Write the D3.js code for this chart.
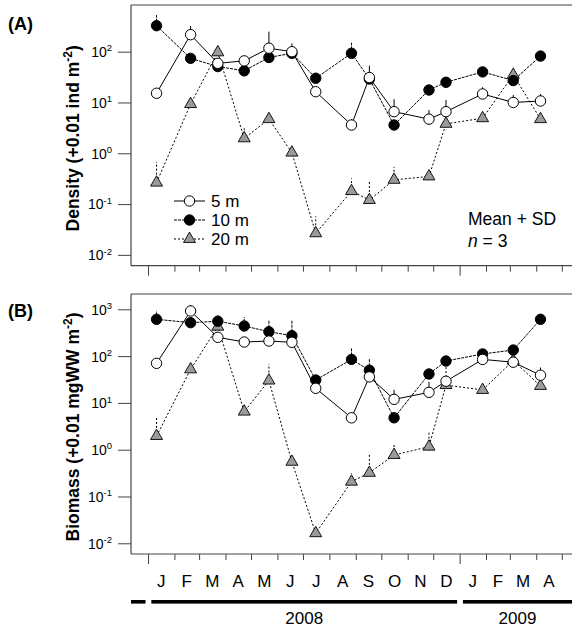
<!DOCTYPE html>
<html>
<head>
<meta charset="utf-8">
<script src="https://cdn.jsdelivr.net/npm/d3@7"></script>
<style>
  body { margin: 0; background: #fff; }
  text { font-family: "Liberation Sans", Arial, Helvetica, sans-serif; fill: #000; }
</style>
</head>
<body>
<svg id="chart" width="572" height="632"></svg>
<script>
// Sampling dates (one survey per month, irregular days)
const sampleDates = ["2008-01-11","2008-02-20","2008-03-23","2008-04-23","2008-05-22",
  "2008-06-18","2008-07-16","2008-08-27","2008-09-17","2008-10-16","2008-11-26",
  "2008-12-16","2009-01-28","2009-03-05","2009-04-06"];

const monthLabels = ["J","F","M","A","M","J","J","A","S","O","N","D","J","F","M","A"];
const yearLabels = ["2008","2009"];
const depthLabels = ["5 m","10 m","20 m"];

// Density (+0.01 ind m-2): means and SDs per depth
const density5   = [15.2, 216, 59, 66, 117, 100, 16.3, 3.6, 31, 6.6, 4.7, 6.6, 14.7, 10, 10.7];
const density5SD = [1.8, 104, 6, 16, 131, 46, 1.7, 1.1, 22, 5, 2.4, 4.6, 5.3, 4, 4];
const density10   = [325, 74, 51, 42, 77, 93, 30, 93, 29, 3.6, 17.6, 25, 40, 27, 82];
const density10SD = [200, 10, 5, 5, 10, 10, 3, 57, 3, 0.4, 2, 3, 5, 3, 8];
const density20   = [0.264, 9.3, 97, 1.97, 4.7, 1.03, 0.0266, 0.18, 0.12, 0.30, 0.35, 3.8, 4.9, 35, 4.7];
const density20SD = [0.41, 1, 10, 1.3, 0.5, 0.2, 0.031, 0.14, 0.18, 0.24, 0.03, 2.2, 0.5, 16, 0.5];

// Biomass (+0.01 mgWW m-2): means and SDs per depth
const biomass5   = [70, 920, 252, 200, 210, 197, 20.5, 4.8, 36, 11.9, 16.8, 29, 85, 74, 39];
const biomass5SD = [18, 320, 10, 10, 10, 10, 2, 1.4, 5, 7.1, 11.2, 5, 10, 8, 18];
const biomass10   = [611, 518, 555, 440, 332, 273, 30.8, 85, 50, 4.8, 41.5, 78.5, 111, 135, 611];
const biomass10SD = [319, 30, 200, 235, 238, 297, 3, 62, 40, 0.5, 3, 5, 10, 10, 50];
const biomass20   = [1.96, 52, 425, 6.5, 30, 0.55, 0.0164, 0.207, 0.32, 0.77, 1.16, 24, 18.9, 80, 23];
const biomass20SD = [3.1, 5, 50, 1, 38, 0.1, 0.003, 0.11, 0.54, 0.55, 1.34, 52, 2, 10, 5];

const densityTicks = [1e-2, 1e-1, 1e0, 1e1, 1e2];
const biomassTicks = [1e-2, 1e-1, 1e0, 1e1, 1e2, 1e3];

const parse = d3.utcParse("%Y-%m-%d");
const dates = sampleDates.map(parse);

const svg = d3.select("#chart");
const W = 572;
const left = 131;
const frameColor = "#444";

const x = d3.scaleUtc()
  .domain([parse("2007-12-12"), parse("2009-05-13")])
  .range([left, W]);

// series styling by depth
const styles = [
  { dash: null,  marker: "open" },
  { dash: "3,1", marker: "filled" },
  { dash: "2,2", marker: "triangle" }
];

const panels = [
  { label: "(A)", top: 5, bottom: 265.7, dom: [-2.213, 2.919], ticks: densityTicks,
    title: ["Density (+0.01 ind m", "-2", ")"], labelY: 30,
    series: [[density5, density5SD], [density10, density10SD], [density20, density20SD]],
    legend: true },
  { label: "(B)", top: 294, bottom: 554, dom: [-2.229, 3.327], ticks: biomassTicks,
    title: ["Biomass (+0.01 mgWW m", "-2", ")"], labelY: 317,
    series: [[biomass5, biomass5SD], [biomass10, biomass10SD], [biomass20, biomass20SD]],
    legend: false }
];

const triangle = d3.symbol().type(d3.symbolTriangle).size(62);

function drawMarker(g, kind, cx, cy) {
  if (kind === "triangle") {
    g.append("path").attr("d", triangle)
      .attr("transform", `translate(${cx},${cy})`)
      .attr("fill", "#9b9b9b").attr("stroke", "#000").attr("stroke-width", 0.9);
  } else {
    g.append("circle").attr("cx", cx).attr("cy", cy).attr("r", 5.2)
      .attr("fill", kind === "open" ? "#fff" : "#000")
      .attr("stroke", "#000").attr("stroke-width", 1);
  }
}

const monthTicks = d3.utcMonth.range(parse("2008-01-01"), parse("2009-05-02"));

panels.forEach(p => {
  const y = d3.scaleLog()
    .domain([Math.pow(10, p.dom[0]), Math.pow(10, p.dom[1])])
    .range([p.bottom, p.top]);

  // frame: left axis, top border, bottom axis
  svg.append("line").attr("x1", left).attr("x2", W).attr("y1", p.top).attr("y2", p.top)
    .attr("stroke", frameColor).attr("stroke-width", 1.2);

  // y axis
  const yAxis = svg.append("g").attr("transform", `translate(${left},0)`)
    .call(d3.axisLeft(y).tickValues(p.ticks).tickSize(13).tickPadding(6).tickFormat(""));
  yAxis.select(".domain").attr("stroke", frameColor).attr("stroke-width", 1.2)
    .attr("d", `M0,${p.top}V${p.bottom}`);
  yAxis.selectAll(".tick line").attr("stroke", frameColor);
  yAxis.selectAll(".tick text").each(function(d) {
    const t = d3.select(this).attr("font-size", 14).attr("dy", "0.35em").attr("x", -19);
    t.append("tspan").text("10");
    t.append("tspan").attr("font-size", 9.5).attr("dy", "-0.6em").text(Math.round(Math.log10(d)));
  });

  // x axis (month boundaries; Januaries longer)
  const xAxis = svg.append("g").attr("transform", `translate(0,${p.bottom})`)
    .call(d3.axisBottom(x).tickValues(monthTicks).tickSize(6).tickFormat(""));
  xAxis.select(".domain").attr("stroke", frameColor).attr("stroke-width", 1.2)
    .attr("d", `M${left},0H${W}`);
  xAxis.selectAll(".tick line").attr("stroke", frameColor)
    .attr("y2", d => d.getUTCMonth() === 0 ? 10 : 6);

  // axis title
  const tt = svg.append("text")
    .attr("transform", `translate(79,${(p.top + p.bottom) / 2 + 3}) rotate(-90)`)
    .attr("text-anchor", "middle").attr("font-weight", "bold").attr("font-size", 17.5);
  tt.append("tspan").text(p.title[0]);
  tt.append("tspan").attr("font-size", 12).attr("dy", "-0.55em").text(p.title[1]);
  tt.append("tspan").attr("dy", "0.4em").text(p.title[2]);

  // panel label
  svg.append("text").attr("x", 8).attr("y", p.labelY)
    .attr("font-weight", "bold").attr("font-size", 18).text(p.label);

  const plot = svg.append("g");
  const line = d3.line().x((d, i) => x(dates[i])).y(d => y(d));

  // draw deepest series first so shallower ones sit on top
  [2, 1, 0].forEach(k => {
    const [means, sds] = p.series[k];
    const st = styles[k];
    plot.append("path").datum(means).attr("d", line)
      .attr("fill", "none").attr("stroke", "#000").attr("stroke-width", 1)
      .attr("stroke-dasharray", st.dash);
    means.forEach((m, i) => {
      plot.append("line")
        .attr("x1", x(dates[i])).attr("x2", x(dates[i]))
        .attr("y1", y(m)).attr("y2", y(m + sds[i]))
        .attr("stroke", "#000").attr("stroke-width", 1)
        .attr("stroke-dasharray", st.dash);
    });
  });
  [2, 1, 0].forEach(k => {
    const [means] = p.series[k];
    means.forEach((m, i) => drawMarker(plot, styles[k].marker, x(dates[i]), y(m)));
  });

  if (p.legend) {
    const lg = svg.append("g");
    depthLabels.forEach((lab, k) => {
      const ly = 201 + k * 19;
      lg.append("line").attr("x1", 174).attr("x2", 205).attr("y1", ly).attr("y2", ly)
        .attr("stroke", "#000").attr("stroke-width", 1).attr("stroke-dasharray", styles[k].dash);
      drawMarker(lg, styles[k].marker, 189.5, ly);
      lg.append("text").attr("x", 211).attr("y", ly + 6).attr("font-size", 17).text(lab);
    });
    svg.append("text").attr("x", 468).attr("y", 225).attr("font-size", 17.5).text("Mean + SD");
    const nt = svg.append("text").attr("x", 468).attr("y", 247).attr("font-size", 17.5);
    nt.append("tspan").attr("font-style", "italic").text("n");
    nt.append("tspan").text(" = 3");
  }
});

// month initials centred in each month
const monthStarts = d3.utcMonth.range(parse("2008-01-01"), parse("2009-05-01"));
svg.append("g").selectAll("text").data(monthStarts).join("text")
  .attr("x", d => (x(d) + x(d3.utcMonth.offset(d, 1))) / 2)
  .attr("y", 587).attr("text-anchor", "middle").attr("font-size", 17)
  .text((d, i) => monthLabels[i]);

// year bars with small gaps at the year boundaries
const y08 = parse("2008-01-01"), y09 = parse("2009-01-01");
const bars = [
  [left, x(y08) - 2.5, null],
  [x(y08) + 3.3, x(y09) - 2.5, yearLabels[0]],
  [x(y09) + 3.3, W, yearLabels[1]]
];
bars.forEach(([a, b, lab]) => {
  svg.append("rect").attr("x", a).attr("y", 600).attr("width", b - a).attr("height", 3.6)
    .attr("fill", "#000");
  if (lab) {
    svg.append("text").attr("x", (a + b) / 2).attr("y", 624)
      .attr("text-anchor", "middle").attr("font-size", 17).text(lab);
  }
});
</script>
</body>
</html>
